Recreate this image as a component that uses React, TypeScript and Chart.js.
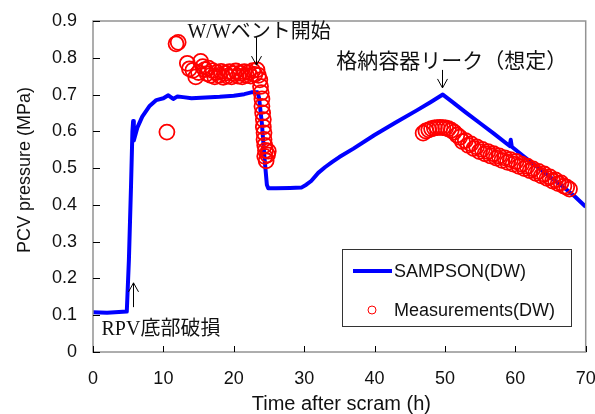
import { useEffect, useRef } from 'react';
import { Chart, registerables } from 'chart.js';
Chart.register(...registerables);

// ---- data ----
const sampsonTime = [0, 2, 4.8, 5.1, 5.4, 5.6, 5.7, 5.8, 6.3, 7.0, 8.0, 9.0, 10.0, 10.7, 11.4, 12.0, 12.8, 14.0, 16.0, 18.0, 20.0, 21.5, 22.5, 23.4, 23.6, 24.0, 24.4, 24.7, 24.9, 26.0, 28.0, 29.6, 30.3, 31.0, 32.0, 33.0, 34.0, 35.0, 37.0, 40.0, 43.0, 46.0, 48.0, 49.7, 51.0, 53.0, 55.0, 57.0, 59.2, 59.35, 59.5, 61.0, 63.0, 65.0, 67.0, 68.5, 70.0];
const sampsonPressure = [0.108, 0.107, 0.11, 0.25, 0.45, 0.6, 0.628, 0.575, 0.61, 0.64, 0.668, 0.685, 0.69, 0.698, 0.688, 0.695, 0.693, 0.69, 0.692, 0.694, 0.697, 0.701, 0.706, 0.706, 0.69, 0.62, 0.52, 0.455, 0.445, 0.445, 0.446, 0.447, 0.455, 0.465, 0.487, 0.503, 0.517, 0.53, 0.553, 0.59, 0.624, 0.657, 0.68, 0.7, 0.681, 0.651, 0.622, 0.593, 0.56, 0.577, 0.558, 0.535, 0.505, 0.475, 0.446, 0.422, 0.395];

const measTime = [10.5, 11.8, 12.1, 13.4, 13.7, 14.2, 14.6, 15.0, 15.3, 15.6, 15.9, 16.2, 16.4, 16.7, 17.0, 17.3, 17.6, 17.9, 18.2, 18.5, 18.8, 19.1, 19.4, 19.7, 20.0, 20.3, 20.6, 20.9, 21.2, 21.5, 21.8, 22.1, 22.4, 22.7, 23.0, 23.3, 23.5, 23.7, 23.8, 23.9, 24.0, 24.0, 24.1, 24.2, 24.2, 24.3, 24.3, 24.4, 24.5, 24.4, 24.6, 24.8, 24.9,
  46.9, 47.3, 47.7, 48.1, 48.5, 48.9, 49.3, 49.7, 50.1, 50.5, 50.9, 51.3, 51.7, 52.1, 52.5, 52.9, 53.3, 53.7, 54.1, 54.5, 54.9, 55.3, 55.7, 56.1, 56.5, 56.9, 57.3, 57.7, 58.1, 58.5, 58.9, 59.3, 59.7, 60.1, 60.5, 60.9, 61.3, 61.7, 62.1, 62.5, 62.9, 63.3, 63.7, 64.1, 64.5, 64.9, 65.3, 65.7, 66.1, 66.5, 66.9, 67.3, 67.7];
const measPressure = [0.598, 0.838, 0.842, 0.785, 0.77, 0.766, 0.748, 0.76, 0.79, 0.776, 0.768, 0.757, 0.772, 0.752, 0.765, 0.748, 0.76, 0.752, 0.763, 0.747, 0.758, 0.75, 0.762, 0.748, 0.757, 0.764, 0.75, 0.758, 0.748, 0.762, 0.752, 0.76, 0.75, 0.765, 0.755, 0.767, 0.752, 0.74, 0.722, 0.705, 0.688, 0.668, 0.65, 0.632, 0.612, 0.596, 0.578, 0.562, 0.548, 0.532, 0.52, 0.536, 0.546,
  0.595, 0.601, 0.604, 0.607, 0.609, 0.61, 0.611, 0.61, 0.609, 0.607, 0.603, 0.598, 0.59, 0.584, 0.572, 0.575, 0.562, 0.566, 0.553, 0.558, 0.545, 0.551, 0.539, 0.545, 0.533, 0.539, 0.527, 0.533, 0.521, 0.528, 0.516, 0.523, 0.511, 0.518, 0.505, 0.511, 0.499, 0.505, 0.493, 0.498, 0.486, 0.491, 0.479, 0.484, 0.472, 0.476, 0.465, 0.468, 0.458, 0.46, 0.451, 0.448, 0.443];

const xTickValues = [0, 10, 20, 30, 40, 50, 60, 70];
const xTickLabels = ['0', '10', '20', '30', '40', '50', '60', '70'];
const yTickValues = [0, 0.1, 0.2, 0.3, 0.4, 0.5, 0.6, 0.7, 0.8, 0.9];
const yTickLabels = ['0', '0.1', '0.2', '0.3', '0.4', '0.5', '0.6', '0.7', '0.8', '0.9'];
const seriesNames = ['SAMPSON(DW)', 'Measurements(DW)'];
const xTitle = 'Time after scram (h)';
const yTitle = 'PCV pressure (MPa)';
const annotationTexts = ['W/Wベント開始', '格納容器リーク（想定）', 'RPV底部破損'];
// text anchor (h, MPa), arrow x (h), arrow from/to (MPa)
const annotationTextX = [23.6, 50.97, 9.65];
const annotationTextY = [0.867, 0.788, 0.06];
const annotationArrowX = [23.15, 49.55, 5.68];
const annotationArrowFrom = [0.856, 0.767, 0.122];
const annotationArrowTo = [0.78, 0.718, 0.188];
const annotationFontSize = [20, 21, 20];

const SANS = '"Liberation Sans", Arial, sans-serif';
const SERIF = '"Liberation Serif", "Noto Sans CJK JP", serif';

const decorPlugin = {
  id: 'decor',
  afterDraw(chart: any) {
    const { ctx, chartArea, scales } = chart;
    const { left, right, top, bottom } = chartArea;
    const xs = scales.x;
    const ys = scales.y;
    ctx.save();
    // frame
    ctx.strokeStyle = '#939393';
    ctx.lineWidth = 1.5;
    ctx.strokeRect(left, top, right - left, bottom - top);
    // inward ticks
    ctx.strokeStyle = '#000';
    ctx.lineWidth = 1;
    xTickValues.forEach((v) => {
      const px = Math.round(xs.getPixelForValue(v)) + 0.5;
      ctx.beginPath();
      ctx.moveTo(px, bottom);
      ctx.lineTo(px, bottom - 6);
      ctx.stroke();
    });
    yTickValues.forEach((v) => {
      const py = Math.round(ys.getPixelForValue(v)) + 0.5;
      ctx.beginPath();
      ctx.moveTo(left, py);
      ctx.lineTo(left + 7, py);
      ctx.stroke();
    });

    // axis titles
    ctx.fillStyle = '#111';
    ctx.font = `20px ${SANS}`;
    ctx.textAlign = 'center';
    ctx.textBaseline = 'middle';
    ctx.fillText(xTitle, (left + right) / 2 + 2, 404);
    ctx.save();
    ctx.translate(25, 170);
    ctx.rotate(-Math.PI / 2);
    ctx.font = `18px ${SANS}`;
    ctx.fillText(yTitle, 0, 0);
    ctx.restore();

    // annotations
    annotationTexts.forEach((t, i) => {
      const tx = xs.getPixelForValue(annotationTextX[i]);
      const ty = ys.getPixelForValue(annotationTextY[i]);
      ctx.font = `${annotationFontSize[i]}px ${SERIF}`;
      ctx.fillStyle = '#111';
      ctx.textAlign = 'center';
      ctx.textBaseline = 'middle';
      ctx.fillText(t, tx, ty);
      const ax = Math.round(xs.getPixelForValue(annotationArrowX[i])) + 0.5;
      const y0 = ys.getPixelForValue(annotationArrowFrom[i]);
      const y1 = ys.getPixelForValue(annotationArrowTo[i]);
      const dir = y1 > y0 ? -1 : 1;
      ctx.strokeStyle = '#000';
      ctx.lineWidth = 1;
      ctx.beginPath();
      ctx.moveTo(ax, y0);
      ctx.lineTo(ax, y1);
      ctx.moveTo(ax - 5, y1 + dir * 9);
      ctx.lineTo(ax, y1);
      ctx.lineTo(ax + 5, y1 + dir * 9);
      ctx.stroke();
    });

    // legend
    ctx.fillStyle = '#fff';
    ctx.fillRect(342, 249, 229, 77);
    ctx.strokeStyle = '#333';
    ctx.lineWidth = 1;
    ctx.strokeRect(342.5, 249.5, 229, 77);
    ctx.strokeStyle = '#0000ff';
    ctx.lineWidth = 4;
    ctx.beginPath();
    ctx.moveTo(353, 271);
    ctx.lineTo(392, 271);
    ctx.stroke();
    ctx.strokeStyle = '#ff0000';
    ctx.lineWidth = 1;
    ctx.beginPath();
    ctx.arc(372, 310, 4, 0, Math.PI * 2);
    ctx.stroke();
    ctx.fillStyle = '#111';
    ctx.font = `18px ${SANS}`;
    ctx.textAlign = 'left';
    ctx.textBaseline = 'middle';
    ctx.fillText(seriesNames[0], 394, 272);
    ctx.fillText(seriesNames[1], 394, 311);
    ctx.restore();
  },
};

export default function App() {
  const ref = useRef<HTMLCanvasElement>(null);
  useEffect(() => {
    if (!ref.current) return;
    const chart = new Chart(ref.current, {
      type: 'scatter',
      data: {
        datasets: [
          {
            label: seriesNames[1],
            data: measTime.map((t, i) => ({ x: t, y: measPressure[i] })),
            showLine: false,
            pointStyle: 'circle',
            pointRadius: 7.5,
            pointBorderWidth: 1.8,
            pointBorderColor: '#ff0000',
            pointBackgroundColor: 'rgba(0,0,0,0)',
            borderColor: '#ff0000',
            backgroundColor: 'rgba(0,0,0,0)',
          },
          {
            label: seriesNames[0],
            data: sampsonTime.map((t, i) => ({ x: t, y: sampsonPressure[i] })),
            showLine: true,
            borderColor: '#0000ff',
            borderWidth: 4,
            borderJoinStyle: 'round',
            pointRadius: 0,
            tension: 0,
          },
        ],
      },
      options: {
        responsive: false,
        animation: false,
        devicePixelRatio: 1,
        layout: { padding: { top: 21, right: 9, left: 0, bottom: 0 } },
        plugins: { legend: { display: false }, tooltip: { enabled: false } },
        scales: {
          x: {
            type: 'linear',
            min: 0,
            max: 70,
            afterBuildTicks: (s: any) => {
              s.ticks = xTickValues.map((v) => ({ value: v }));
            },
            afterFit: (s: any) => {
              s.height = 62;
              s.paddingLeft = 0;
              s.paddingRight = 0;
              s.paddingTop = 0;
              s.paddingBottom = 0;
            },
            grid: { display: false, drawTicks: false },
            border: { display: false },
            ticks: {
              padding: 16,
              autoSkip: false,
              maxRotation: 0,
              color: '#111',
              font: { family: SANS, size: 18 },
              callback: (_v: any, i: number) => xTickLabels[i],
            },
          },
          y: {
            type: 'linear',
            min: 0,
            max: 0.9,
            afterBuildTicks: (s: any) => {
              s.ticks = yTickValues.map((v) => ({ value: v }));
            },
            afterFit: (s: any) => {
              s.width = 93;
              s.paddingLeft = 0;
              s.paddingRight = 0;
              s.paddingTop = 0;
              s.paddingBottom = 0;
            },
            grid: { display: false, drawTicks: false },
            border: { display: false },
            ticks: {
              padding: 16,
              autoSkip: false,
              color: '#111',
              font: { family: SANS, size: 18 },
              callback: (_v: any, i: number) => yTickLabels[i],
            },
          },
        },
      },
      plugins: [decorPlugin],
    } as any);
    return () => chart.destroy();
  }, []);
  return (
    <div style={{ position: 'fixed', left: 0, top: 0, width: 595, height: 414, background: '#fff' }}>
      <canvas ref={ref} width={595} height={414} style={{ display: 'block', width: 595, height: 414 }} />
    </div>
  );
}
